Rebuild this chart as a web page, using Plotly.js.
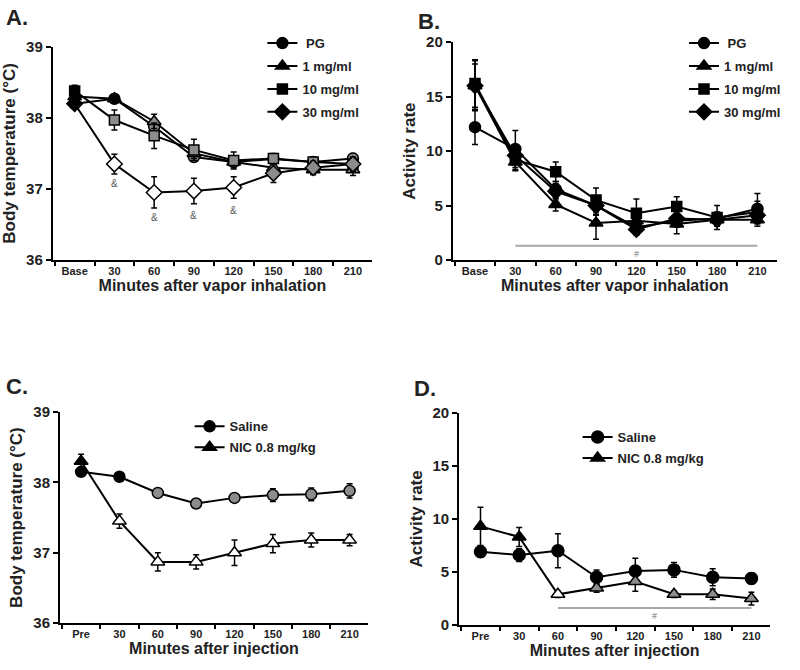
<!DOCTYPE html>
<html>
<head>
<meta charset="utf-8">
<script src="https://cdn.plot.ly/plotly-3.0.1.min.js"></script>
<style>html,body{margin:0;padding:0;background:#fff;}#chart{width:800px;height:670px;}</style>
</head>
<body>
<div id="chart"></div>
<script>
// ---------- data ----------
const vaporCats = ["Base", "30", "60", "90", "120", "150", "180", "210"];
const injCats = ["Pre", "30", "60", "90", "120", "150", "180", "210"];

// Panel A: body temperature (°C) after vapor inhalation
const tempPG     = [38.20, 38.27, 37.88, 37.45, 37.38, 37.42, 37.38, 37.43];
const tempPG_err = [0.06, 0.05, 0.08, 0.06, 0.06, 0.06, 0.05, 0.07];
const temp1      = [38.30, 38.27, 37.95, 37.50, 37.38, 37.30, 37.27, 37.27];
const temp1_err  = [0.07, 0.06, 0.10, 0.07, 0.08, 0.07, 0.07, 0.08];
const temp10     = [38.38, 37.97, 37.75, 37.55, 37.40, 37.43, 37.38, 37.35];
const temp10_err = [0.08, 0.14, 0.18, 0.15, 0.12, 0.07, 0.07, 0.10];
const temp30     = [38.20, 37.35, 36.95, 36.97, 37.02, 37.22, 37.30, 37.35];
const temp30_err = [0.07, 0.14, 0.22, 0.18, 0.15, 0.13, 0.09, 0.09];
const ampIdx = [1, 2, 3, 4];
const ampY = [37.08, 36.60, 36.63, 36.70];

// Panel B: activity rate after vapor inhalation
const actPG     = [12.2, 10.2, 6.5, 5.0, 3.0, 3.6, 3.8, 4.7];
const actPG_err = [1.6, 1.7, 0.7, 0.9, 0.6, 0.6, 0.6, 1.4];
const act1      = [16.0, 9.0, 5.1, 3.4, 3.6, 3.3, 3.7, 3.7];
const act1_err  = [2.3, 0.8, 0.6, 1.5, 0.9, 0.9, 0.6, 0.6];
const act10     = [16.2, 9.2, 8.1, 5.5, 4.3, 4.9, 3.9, 4.4];
const act10_err = [2.2, 0.9, 0.9, 1.1, 1.3, 0.9, 1.1, 1.0];
const act30     = [16.0, 9.6, 6.3, 5.0, 2.8, 3.8, 3.7, 4.1];
const act30_err = [2.0, 0.8, 0.7, 0.8, 0.5, 0.7, 0.5, 0.7];
const sigB = { from: "30", to: "210", y: 1.3, markY: 0.55 };

// Panel C: body temperature after injection
const tempSal     = [38.15, 38.08, 37.85, 37.70, 37.78, 37.82, 37.83, 37.88];
const tempSal_err = [0.06, 0.05, 0.06, 0.05, 0.06, 0.09, 0.09, 0.10];
const tempNic     = [38.30, 37.45, 36.87, 36.87, 37.00, 37.13, 37.18, 37.18];
const tempNic_err = [0.10, 0.10, 0.13, 0.10, 0.18, 0.13, 0.10, 0.08];

// Panel D: activity rate after injection
const actSal     = [6.9, 6.6, 7.0, 4.5, 5.1, 5.2, 4.5, 4.4];
const actSal_err = [0.5, 0.6, 1.6, 0.7, 1.2, 0.7, 0.8, 0.5];
const actNic     = [9.3, 8.3, 2.9, 3.5, 4.1, 2.9, 2.9, 2.5];
const actNic_err = [1.8, 0.9, 0.3, 0.4, 0.9, 0.3, 0.5, 0.6];
const sigD = { from: "60", to: "210", y: 1.6, markY: 0.85 };

// ---------- styles ----------
const K = "#000000", G = "#8c8c8c", W = "#ffffff";
const FONT = "Liberation Sans, Arial, sans-serif";

function tr(x, y, err, name, symbol, size, colors, xa, ya, leg, grp) {
  return {
    type: "scatter", mode: "lines+markers", x: x, y: y, name: name,
    xaxis: xa, yaxis: ya, legend: leg, legendgroup: grp,
    line: { color: K, width: 2 },
    marker: { symbol: symbol, size: size, color: colors, line: { color: K, width: 1.5 } },
    error_y: { type: "data", array: err, visible: true, color: K, thickness: 1.5, width: 3 },
    cliponaxis: false
  };
}
function sigLine(s, xa, ya) {
  return { type: "scatter", mode: "lines", x: [s.from, s.to], y: [s.y, s.y],
    xaxis: xa, yaxis: ya, showlegend: false, hoverinfo: "skip",
    line: { color: "#a8a8a8", width: 2 } };
}

const traces = [
  // A
  tr(vaporCats, tempPG, tempPG_err, " PG", "circle", 11, [K,K,G,G,G,G,G,G], "x", "y", "legend", "a1"),
  tr(vaporCats, temp1, temp1_err, "1 mg/ml", "triangle-up", 12, [K,K,G,G,G,G,G,G], "x", "y", "legend", "a2"),
  tr(vaporCats, temp10, temp10_err, "10 mg/ml", "square", 10, [K,G,G,G,G,G,G,G], "x", "y", "legend", "a3"),
  tr(vaporCats, temp30, temp30_err, "30 mg/ml", "diamond", 12, [K,W,W,W,W,G,G,G], "x", "y", "legend", "a4"),
  // B
  sigLine(sigB, "x2", "y2"),
  tr(vaporCats, actPG, actPG_err, " PG", "circle", 11, K, "x2", "y2", "legend2", "b1"),
  tr(vaporCats, act1, act1_err, "1 mg/ml", "triangle-up", 12, K, "x2", "y2", "legend2", "b2"),
  tr(vaporCats, act10, act10_err, "10 mg/ml", "square", 10, K, "x2", "y2", "legend2", "b3"),
  tr(vaporCats, act30, act30_err, "30 mg/ml", "diamond", 12, K, "x2", "y2", "legend2", "b4"),
  // C
  tr(injCats, tempSal, tempSal_err, "Saline", "circle", 11, [K,K,G,G,G,G,G,G], "x3", "y3", "legend3", "c1"),
  tr(injCats, tempNic, tempNic_err, "NIC 0.8 mg/kg", "triangle-up", 12, [K,W,W,W,W,W,W,W], "x3", "y3", "legend3", "c2"),
  // D
  sigLine(sigD, "x4", "y4"),
  tr(injCats, actSal, actSal_err, "Saline", "circle", 12, K, "x4", "y4", "legend4", "d1"),
  tr(injCats, actNic, actNic_err, "NIC 0.8 mg/kg", "triangle-up", 12, [K,K,W,G,G,G,G,G], "x4", "y4", "legend4", "d2")
];

function xax(domain, anchor, cats, title) {
  return {
    domain: domain, anchor: anchor, type: "category",
    categoryorder: "array", categoryarray: cats, range: [-0.55, 7.48],
    tickson: "boundaries", ticks: "outside", ticklen: 4, tickwidth: 2, tickcolor: K,
    showline: true, linewidth: 2, linecolor: K, showgrid: false, zeroline: false,
    tickfont: { family: FONT, size: 11, weight: "bold", color: "#222" },
    title: { text: title, font: { family: FONT, size: 16, weight: "bold", color: "#222" }, standoff: 2 },
    fixedrange: true
  };
}
function yax(domain, anchor, range, dtick, title) {
  return {
    domain: domain, anchor: anchor, range: range, dtick: dtick,
    ticks: "outside", ticklen: 5, tickwidth: 2, tickcolor: K,
    showline: true, linewidth: 2, linecolor: K, showgrid: false, zeroline: false,
    tickfont: { family: FONT, size: 15, weight: "bold", color: "#222" },
    title: { text: title, font: { family: FONT, size: 17, weight: "bold", color: "#222" }, standoff: 6 },
    fixedrange: true
  };
}
function legend(x, y, gap) {
  return { x: x, y: y, xanchor: "left", yanchor: "top", bgcolor: "rgba(0,0,0,0)",
    font: { family: FONT, size: 13, weight: "bold", color: "#222" },
    tracegroupgap: gap, itemwidth: 30 };
}

const annotations = [
  { text: "A.", x: 0.005, y: 0.995, xref: "paper", yref: "paper", xanchor: "left", yanchor: "top", showarrow: false, font: { family: FONT, size: 22, weight: "bold", color: "#222" } },
  { text: "B.", x: 0.52, y: 0.99, xref: "paper", yref: "paper", xanchor: "left", yanchor: "top", showarrow: false, font: { family: FONT, size: 22, weight: "bold", color: "#222" } },
  { text: "C.", x: 0.005, y: 0.445, xref: "paper", yref: "paper", xanchor: "left", yanchor: "top", showarrow: false, font: { family: FONT, size: 22, weight: "bold", color: "#222" } },
  { text: "D.", x: 0.515, y: 0.442, xref: "paper", yref: "paper", xanchor: "left", yanchor: "top", showarrow: false, font: { family: FONT, size: 22, weight: "bold", color: "#222" } }
];
ampIdx.forEach((i, k) => annotations.push({
  text: "&", x: i, y: ampY[k], xref: "x", yref: "y", showarrow: false,
  font: { family: FONT, size: 10, color: "#555" }
}));
annotations.push({ text: "#", x: 4, y: sigB.markY, xref: "x2", yref: "y2", showarrow: false, font: { family: FONT, size: 9, color: "#777" } });
annotations.push({ text: "#", x: 4.5, y: sigD.markY, xref: "x4", yref: "y4", showarrow: false, font: { family: FONT, size: 9, color: "#777" } });

const layout = {
  width: 800, height: 670, margin: { l: 0, r: 0, t: 0, b: 0 },
  paper_bgcolor: "#fff", plot_bgcolor: "#fff", showlegend: true,
  xaxis:  xax([0.066, 0.465], "y", vaporCats, "Minutes after vapor inhalation"),
  yaxis:  yax([0.612, 0.930], "x", [36, 39], 1, "Body temperature (°C)"),
  xaxis2: xax([0.566, 0.971], "y2", vaporCats, "Minutes after vapor inhalation"),
  yaxis2: yax([0.612, 0.937], "x2", [0, 20], 5, "Activity rate"),
  xaxis3: xax([0.075, 0.460], "y3", injCats, "Minutes after injection"),
  yaxis3: yax([0.070, 0.385], "x3", [36, 39], 1, "Body temperature (°C)"),
  xaxis4: xax([0.574, 0.9625], "y4", injCats, "Minutes after injection"),
  yaxis4: yax([0.067, 0.384], "x4", [0, 20], 5, "Activity rate"),
  legend:  legend(0.328, 0.958, 3),
  legend2: legend(0.855, 0.958, 3),
  legend3: legend(0.237, 0.386, 1),
  legend4: legend(0.722, 0.370, 1),
  annotations: annotations
};

Plotly.newPlot("chart", traces, layout, { staticPlot: true, displayModeBar: false });
</script>
</body>
</html>
